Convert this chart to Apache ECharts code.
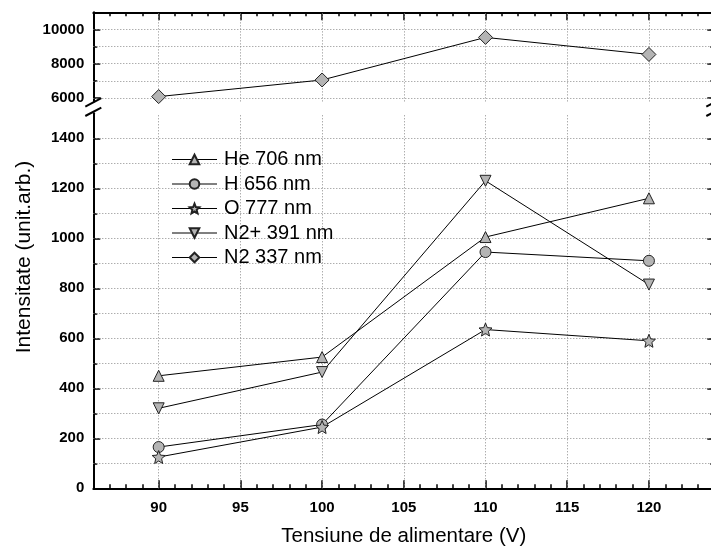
<!DOCTYPE html>
<html>
<head>
<meta charset="utf-8">
<script src="https://cdn.jsdelivr.net/npm/echarts@6/dist/echarts.min.js"></script>
<style>
  html, body { margin: 0; padding: 0; background: #fff; }
  #chart { width: 711px; height: 548px; }
</style>
</head>
<body>
<div id="chart"></div>
<script>
// Supply voltage (V) at which the emission lines were measured
const voltage = [90, 100, 110, 120];

// Line intensities (arb. units)
const he706 = [450, 525, 1005, 1160];
const h656 = [165, 255, 945, 910];
const o777 = [125, 245, 635, 590];
const n2plus391 = [320, 465, 1230, 815];
const n2337 = [6080, 7050, 9535, 8540];

// Axis ticks
const xMajorTicks = [90, 95, 100, 105, 110, 115, 120];
const lowMajorTicks = [0, 200, 400, 600, 800, 1000, 1200, 1400];
const lowMinorTicks = [100, 300, 500, 700, 900, 1100, 1300];
const lowGridLines = [100, 200, 300, 400, 500, 600, 700, 800, 900, 1000, 1100, 1200, 1300, 1400];
const highMajorTicks = [6000, 8000, 10000];
const highMinorTicks = [7000, 9000];
const highGridLines = [6000, 7000, 8000, 9000, 10000];

const FONT = '"Liberation Sans", Arial, Helvetica, sans-serif';

// Plot geometry (y axis is broken into an upper and a lower panel)
const plotLeft = 93.3;
const plotWidth = 621;
const upTop = 12.3, upHeight = 89.1;
const lowTop = 113.3, lowHeight = 375;

const STAR = 'path://M50,0L63.23,31.8L97.55,34.55L71.4,56.95L79.39,90.45L50,72.5L20.61,90.45L28.6,56.95L2.45,34.55L36.77,31.8Z';

const chart = echarts.init(document.getElementById('chart'));

const zip = (xs, ys) => xs.map((x, i) => [x, ys[i]]);
const plain = v => String(v);

const dotted = { color: '#8a8a8a', width: 1, type: [1, 2] };
const axisLineStyle = { lineStyle: { color: '#000', width: 2 } };

function xAxisDef(grid, pos, major, labels) {
  return {
    type: 'value', gridIndex: grid, position: pos, min: 86, max: 124,
    interval: major ? undefined : 1,
    axisLine: major ? axisLineStyle : { show: false },
    axisTick: major
      ? { show: true, inside: true, length: 8, customValues: xMajorTicks, lineStyle: { color: '#000', width: 1.5 } }
      : { show: true, inside: true, length: 4, lineStyle: { color: '#000', width: 1.5 } },
    axisLabel: labels
      ? { show: true, customValues: xMajorTicks, formatter: plain, margin: 12, color: '#000', fontSize: 15, fontWeight: 'bold', fontFamily: FONT }
      : { show: false },
    splitLine: { show: false }
  };
}

function yAxisDef(grid, pos, min, max, ticks, major, labels) {
  return {
    type: 'value', gridIndex: grid, position: pos, min: min, max: max,
    axisLine: major ? axisLineStyle : { show: false },
    axisTick: { show: true, inside: true, length: major ? 7 : 4, customValues: ticks, lineStyle: { color: '#000', width: 1.5 } },
    axisLabel: labels
      ? { show: true, customValues: ticks, formatter: plain, margin: 9, color: '#000', fontSize: 15, fontWeight: 'bold', fontFamily: FONT }
      : { show: false },
    splitLine: { show: false }
  };
}

const markerStyle = { color: '#b4b4b4', borderColor: '#222', borderWidth: 1 };

function lineSeries(name, ys, symbol, size, xi, yi, extra) {
  return Object.assign({
    name: name, type: 'line', xAxisIndex: xi, yAxisIndex: yi,
    data: zip(voltage, ys), symbol: symbol, symbolSize: size,
    showAllSymbol: true,
    lineStyle: { color: '#000', width: 1 },
    itemStyle: markerStyle,
    emphasis: { disabled: true },
    z: 3
  }, extra || {});
}

function gridMarkLine(yLines) {
  return {
    silent: true, symbol: 'none', z: 1, animation: false,
    label: { show: false },
    lineStyle: dotted,
    data: xMajorTicks.map(v => ({ xAxis: v })).concat(yLines.map(v => ({ yAxis: v })))
  };
}

// Break marks on the left and right axes
function breakSlashes(x) {
  const mk = (cy) => ({
    type: 'line', silent: true, z: 10,
    shape: { x1: x - 8, y1: cy + 4.2, x2: x + 8, y2: cy - 4.2 },
    style: { stroke: '#000', lineWidth: 2 }
  });
  return [mk(upTop + upHeight + 1), mk(lowTop - 1.5)];
}

const option = {
  animation: false,
  backgroundColor: '#fff',
  textStyle: { fontFamily: FONT },
  grid: [
    { left: plotLeft, top: upTop, width: plotWidth, height: upHeight, containLabel: false, outerBoundsMode: 'none' },
    { left: plotLeft, top: lowTop, width: plotWidth, height: lowHeight, containLabel: false, outerBoundsMode: 'none' }
  ],
  xAxis: [
    Object.assign(xAxisDef(1, 'bottom', true, true), {
      name: 'Tensiune de alimentare (V)', nameLocation: 'middle', nameGap: 38,
      nameTextStyle: { color: '#000', fontSize: 20.5, fontFamily: FONT }
    }),
    xAxisDef(1, 'bottom', false, false),
    xAxisDef(0, 'top', true, false),
    xAxisDef(0, 'top', false, false)
  ],
  yAxis: [
    yAxisDef(1, 'left', 0, 1500, lowMajorTicks, true, true),
    yAxisDef(1, 'left', 0, 1500, lowMinorTicks, false, false),
    yAxisDef(1, 'right', 0, 1500, lowMajorTicks, true, false),
    yAxisDef(1, 'right', 0, 1500, lowMinorTicks, false, false),
    yAxisDef(0, 'left', 5800, 11000, highMajorTicks, true, true),
    yAxisDef(0, 'left', 5800, 11000, highMinorTicks, false, false),
    yAxisDef(0, 'right', 5800, 11000, highMajorTicks, true, false),
    yAxisDef(0, 'right', 5800, 11000, highMinorTicks, false, false)
  ],
  legend: {
    orient: 'vertical', left: 171.5, top: 149.5, padding: 0,
    itemWidth: 45, itemHeight: 12, itemGap: 4.5,
    selectedMode: false,
    lineStyle: { width: 1, color: '#000' },
    textStyle: { color: '#000', fontSize: 20, fontFamily: FONT, padding: [0, 0, 0, 2] },
    data: ['He 706 nm', 'H 656 nm', 'O 777 nm', 'N2+ 391 nm', 'N2 337 nm']
  },
  graphic: [
    {
      type: 'text', x: 24, y: 257, rotation: Math.PI / 2, silent: true,
      style: { text: 'Intensitate (unit.arb.)', fill: '#000', font: '21px ' + FONT, align: 'center', verticalAlign: 'middle' }
    }
  ].concat(breakSlashes(plotLeft), breakSlashes(plotLeft + plotWidth)),
  series: [
    lineSeries('He 706 nm', he706, 'triangle', 11, 0, 0, { markLine: gridMarkLine(lowGridLines) }),
    lineSeries('H 656 nm', h656, 'circle', 11, 0, 0),
    lineSeries('O 777 nm', o777, STAR, 13, 0, 0),
    lineSeries('N2+ 391 nm', n2plus391, 'triangle', 11, 0, 0, { symbolRotate: 180 }),
    lineSeries('N2 337 nm', n2337, 'diamond', 14, 2, 4, { markLine: gridMarkLine(highGridLines) })
  ]
};

chart.setOption(option);
</script>
</body>
</html>
